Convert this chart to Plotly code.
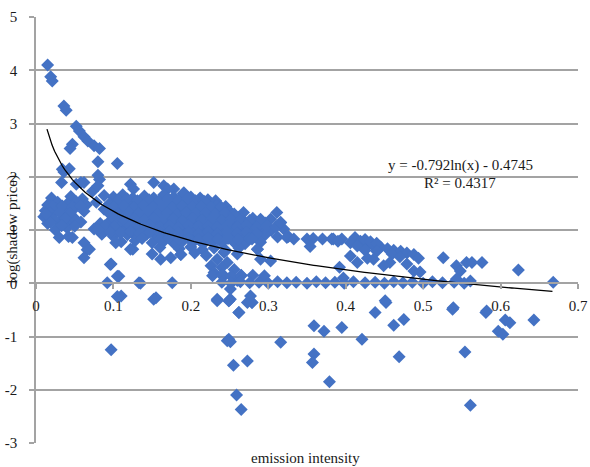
import numpy as np
import plotly.graph_objects as go

# ---------------- data ----------------
steep_pts = [(0.015, 4.10), (0.019, 3.88), (0.021, 3.80), (0.036, 3.33), (0.039, 3.25),
             (0.052, 2.95), (0.056, 2.86), (0.062, 2.75), (0.067, 2.67), (0.075, 2.58),
             (0.082, 2.53), (0.047, 2.61), (0.044, 2.53), (0.080, 2.28), (0.105, 2.25),
             (0.043, 2.15), (0.036, 2.09), (0.034, 2.14), (0.080, 2.03), (0.082, 1.95),
             (0.033, 1.89), (0.052, 1.86), (0.062, 1.89), (0.122, 1.86), (0.126, 1.77),
             (0.152, 1.89), (0.165, 1.83), (0.178, 1.77), (0.191, 1.70), (0.073, 1.73),
             (0.088, 1.65), (0.058, 1.89), (0.080, 1.83), (0.170, 1.77)]

core_pts = [(0.020, 1.60), (0.045, 1.63), (0.060, 1.58), (0.100, 1.62), (0.112, 1.66), (0.125, 1.60),
            (0.140, 1.64), (0.152, 1.60), (0.165, 1.66), (0.178, 1.62), (0.190, 1.68), (0.200, 1.62),
            (0.212, 1.60), (0.222, 1.57), (0.232, 1.55),
            (0.015, 1.47), (0.028, 1.52), (0.040, 1.49), (0.052, 1.53), (0.065, 1.47), (0.078, 1.52),
            (0.095, 1.50), (0.108, 1.46), (0.120, 1.52), (0.132, 1.48), (0.145, 1.53), (0.158, 1.47),
            (0.170, 1.51), (0.182, 1.49), (0.195, 1.54), (0.208, 1.48), (0.220, 1.50), (0.233, 1.46),
            (0.245, 1.44),
            (0.012, 1.36), (0.025, 1.40), (0.038, 1.37), (0.050, 1.41), (0.062, 1.35), (0.088, 1.39),
            (0.100, 1.36), (0.113, 1.40), (0.126, 1.37), (0.138, 1.42), (0.150, 1.36), (0.163, 1.39),
            (0.175, 1.35), (0.188, 1.41), (0.200, 1.37), (0.213, 1.39), (0.226, 1.36), (0.238, 1.40),
            (0.250, 1.35), (0.268, 1.33),
            (0.010, 1.25), (0.022, 1.28), (0.048, 1.24), (0.098, 1.27), (0.110, 1.23), (0.123, 1.28),
            (0.135, 1.25), (0.148, 1.29), (0.160, 1.24), (0.173, 1.27), (0.185, 1.22), (0.198, 1.28),
            (0.210, 1.25), (0.223, 1.27), (0.235, 1.23), (0.248, 1.26), (0.262, 1.24), (0.280, 1.22),
            (0.303, 1.20),
            (0.015, 1.12), (0.030, 1.16), (0.045, 1.13), (0.058, 1.15), (0.083, 1.12), (0.095, 1.16),
            (0.108, 1.11), (0.120, 1.15), (0.133, 1.13), (0.146, 1.17), (0.158, 1.12), (0.170, 1.14),
            (0.183, 1.10), (0.196, 1.15), (0.208, 1.12), (0.220, 1.16), (0.233, 1.11), (0.246, 1.14),
            (0.258, 1.12), (0.270, 1.15), (0.283, 1.10), (0.296, 1.13), (0.316, 1.14),
            (0.025, 1.00), (0.040, 1.04), (0.075, 1.02), (0.090, 0.99), (0.103, 1.03), (0.115, 1.00),
            (0.128, 1.05), (0.140, 1.01), (0.153, 0.98), (0.166, 1.03), (0.178, 1.00), (0.190, 1.04),
            (0.203, 0.99), (0.216, 1.02), (0.228, 0.98), (0.240, 1.03), (0.253, 1.00), (0.266, 1.02),
            (0.278, 0.98), (0.290, 1.01), (0.304, 0.99), (0.320, 1.02),
            (0.085, 0.92), (0.100, 0.88), (0.118, 0.91), (0.130, 0.87), (0.143, 0.92), (0.156, 0.89),
            (0.168, 0.93), (0.180, 0.88), (0.193, 0.91), (0.206, 0.87), (0.218, 0.92), (0.230, 0.89),
            (0.243, 0.91), (0.256, 0.87), (0.268, 0.90), (0.282, 0.88), (0.296, 0.91), (0.312, 0.87),
            (0.326, 0.88),
            (0.110, 0.78), (0.128, 0.80), (0.150, 0.76), (0.165, 0.79), (0.178, 0.75), (0.190, 0.80),
            (0.203, 0.77), (0.216, 0.74), (0.228, 0.79), (0.240, 0.76), (0.255, 0.78), (0.270, 0.74),
            (0.290, 0.77),
            (0.125, 0.64), (0.160, 0.67), (0.185, 0.65), (0.200, 0.68), (0.215, 0.63), (0.230, 0.66),
            (0.245, 0.62), (0.262, 0.66), (0.286, 0.64),
            (0.150, 0.55), (0.187, 0.54), (0.205, 0.57), (0.220, 0.52), (0.243, 0.58), (0.260, 0.55)]

fill_pts = [(0.106, 1.56), (0.118, 1.58), (0.131, 1.55), (0.146, 1.57), (0.159, 1.55), (0.171, 1.58),
            (0.184, 1.56), (0.196, 1.59), (0.206, 1.55), (0.217, 1.54),
            (0.021, 1.44), (0.034, 1.45), (0.046, 1.43), (0.058, 1.46), (0.101, 1.43), (0.114, 1.45),
            (0.126, 1.42), (0.139, 1.46), (0.151, 1.43), (0.164, 1.44), (0.176, 1.42), (0.189, 1.45),
            (0.201, 1.43), (0.214, 1.44), (0.227, 1.42), (0.239, 1.43),
            (0.018, 1.32), (0.031, 1.33), (0.044, 1.31), (0.094, 1.32), (0.106, 1.30), (0.119, 1.33),
            (0.132, 1.31), (0.144, 1.34), (0.157, 1.30), (0.169, 1.32), (0.181, 1.29), (0.194, 1.33),
            (0.206, 1.31), (0.219, 1.32), (0.231, 1.30), (0.244, 1.32), (0.256, 1.30),
            (0.022, 1.20), (0.038, 1.21), (0.052, 1.19), (0.101, 1.20), (0.114, 1.18), (0.127, 1.21),
            (0.139, 1.19), (0.152, 1.22), (0.164, 1.18), (0.177, 1.20), (0.189, 1.17), (0.202, 1.21),
            (0.214, 1.19), (0.227, 1.20), (0.240, 1.18), (0.252, 1.21), (0.264, 1.19), (0.276, 1.18),
            (0.290, 1.20),
            (0.033, 1.08), (0.050, 1.07), (0.089, 1.08), (0.101, 1.06), (0.121, 1.08), (0.134, 1.06),
            (0.147, 1.09), (0.160, 1.06), (0.172, 1.08), (0.184, 1.05), (0.197, 1.09), (0.210, 1.06),
            (0.222, 1.08), (0.234, 1.05), (0.247, 1.08), (0.260, 1.06), (0.272, 1.08), (0.285, 1.05),
            (0.298, 1.07), (0.310, 1.06),
            (0.096, 0.96), (0.109, 0.95), (0.122, 0.97), (0.134, 0.94), (0.147, 0.96), (0.160, 0.94),
            (0.172, 0.97), (0.184, 0.95), (0.197, 0.96), (0.210, 0.94), (0.222, 0.96), (0.234, 0.93),
            (0.247, 0.96), (0.260, 0.94), (0.272, 0.95), (0.285, 0.93),
            (0.137, 0.84), (0.160, 0.83), (0.172, 0.85), (0.185, 0.83), (0.197, 0.84), (0.210, 0.82),
            (0.222, 0.85), (0.235, 0.83), (0.248, 0.84), (0.262, 0.82), (0.276, 0.84)]

left_low_pts = [(0.019, 1.14), (0.013, 1.30), (0.030, 0.86), (0.042, 0.88), (0.047, 0.86),
                (0.062, 0.76), (0.066, 0.63), (0.069, 0.64), (0.062, 0.48), (0.080, 1.01),
                (0.097, 0.36), (0.092, 0.01), (0.107, 0.13), (0.110, -0.24), (0.103, 0.76),
                (0.122, 0.64), (0.133, 0.01), (0.155, -0.27), (0.176, 0.01), (0.174, 0.48),
                (0.161, 0.45), (0.187, 0.54), (0.105, 0.13), (0.096, 0.35), (0.135, 0.00)]

mid_pts = [(0.311, 1.33), (0.316, 1.14), (0.324, 0.86), (0.333, 0.83), (0.350, 0.83),
           (0.358, 0.84), (0.370, 0.83), (0.382, 0.83), (0.395, 0.83), (0.354, 0.69),
           (0.303, 0.42), (0.290, 0.45), (0.286, 0.64), (0.279, 0.83),
           (0.234, 0.45), (0.226, 0.33), (0.243, 0.58), (0.247, 0.39), (0.256, 0.26),
           (0.243, 0.14), (0.251, -0.11), (0.234, -0.30), (0.251, -0.30), (0.277, -0.24),
           (0.262, -0.55), (0.273, -0.36), (0.249, -0.33), (0.279, -0.36), (0.230, 0.20),
           (0.260, 0.05), (0.240, 0.30), (0.265, 0.15),
           (0.228, 0.14), (0.240, 0.15), (0.252, 0.13), (0.265, 0.14), (0.280, 0.15), (0.295, 0.14)]

zero_row_pts = [(0.240, 0.02), (0.252, 0.00), (0.264, 0.03), (0.276, 0.01), (0.288, 0.02),
                (0.300, 0.00), (0.312, 0.03), (0.324, 0.01), (0.336, 0.02), (0.350, 0.00),
                (0.362, 0.03), (0.374, 0.01), (0.386, 0.02), (0.398, 0.00), (0.410, 0.03),
                (0.425, 0.01), (0.438, 0.02), (0.450, 0.00), (0.462, 0.03), (0.474, 0.01),
                (0.486, 0.02), (0.500, 0.00), (0.512, 0.03), (0.525, 0.01), (0.540, 0.02),
                (0.553, 0.00), (0.561, 0.04), (0.397, 0.10), (0.392, 0.30)]

right_pts = [(0.384, 0.83), (0.390, 0.79), (0.412, 0.86), (0.406, 0.76),
             (0.419, 0.79), (0.428, 0.72), (0.436, 0.70), (0.445, 0.68), (0.454, 0.65),
             (0.462, 0.62), (0.471, 0.60), (0.479, 0.57), (0.488, 0.54), (0.494, 0.47),
             (0.425, 0.82), (0.432, 0.78), (0.440, 0.75), (0.415, 0.70), (0.425, 0.62),
             (0.440, 0.60), (0.460, 0.55), (0.470, 0.50),
             (0.406, 0.51), (0.415, 0.39), (0.428, 0.47), (0.436, 0.45), (0.457, 0.39),
             (0.479, 0.36), (0.449, 0.33), (0.488, 0.23), (0.496, 0.21), (0.526, 0.48),
             (0.543, 0.33), (0.556, 0.39), (0.576, 0.39), (0.548, 0.23), (0.543, 0.08),
             (0.563, 0.39), (0.623, 0.25), (0.668, 0.02)]

negative_pts = [(0.097, -1.25), (0.152, -0.30), (0.234, -0.33), (0.249, -0.33), (0.262, -0.55),
                (0.279, -0.36), (0.249, -1.05), (0.251, -1.10), (0.247, -1.08), (0.255, -1.54),
                (0.273, -1.46), (0.259, -2.10), (0.265, -2.37), (0.316, -1.11),
                (0.359, -0.80), (0.372, -0.90), (0.359, -1.33), (0.357, -1.49), (0.379, -1.85),
                (0.395, -0.83), (0.421, -1.05), (0.438, -0.55), (0.452, -0.36), (0.462, -0.79),
                (0.475, -0.68), (0.469, -1.38), (0.538, -0.49), (0.554, -1.29), (0.561, -2.29),
                (0.581, -0.55), (0.597, -0.90), (0.603, -0.96), (0.606, -0.69), (0.612, -0.74),
                (0.643, -0.69), (0.451, -0.33), (0.539, -0.46), (0.582, -0.52), (0.105, -0.25)]

# logarithmic trendline y = a*ln(x) + b (coefficients printed on chart)
trend_a = -0.792
trend_b = -0.4745
trend_x_range = [0.0142, 0.667]

x_tick_vals = [0, 0.1, 0.2, 0.3, 0.4, 0.5, 0.6, 0.7]
x_tick_text = ["0", "0.1", "0.2", "0.3", "0.4", "0.5", "0.6", "0.7"]
y_tick_vals = [-3, -2, -1, 0, 1, 2, 3, 4, 5]
y_tick_text = ["-3", "-2", "-1", "0", "1", "2", "3", "4", "5"]

# ---------------- figure ----------------
all_pts = (steep_pts + core_pts + fill_pts + left_low_pts + mid_pts + zero_row_pts
           + right_pts + negative_pts)
xs = [p[0] for p in all_pts]
ys = [p[1] for p in all_pts]

tx = np.linspace(trend_x_range[0], trend_x_range[1], 200)
ty = trend_a * np.log(tx) + trend_b

FONT = "Liberation Serif, Times New Roman, serif"
GRID = "#A3A3A3"
TXT = "#1a1a1a"

fig = go.Figure()
fig.add_trace(go.Scatter(x=xs, y=ys, mode="markers",
                         marker=dict(symbol="diamond", size=10, color="#4472C4", line=dict(width=0)),
                         showlegend=False, hoverinfo="skip"))
fig.add_trace(go.Scatter(x=tx, y=ty, mode="lines", line=dict(color="black", width=1.3),
                         showlegend=False, hoverinfo="skip"))

fig.update_layout(
    template="none",
    width=590, height=467,
    margin=dict(l=36, r=12, t=17, b=24, pad=0, autoexpand=False),
    paper_bgcolor="white", plot_bgcolor="white",
    font=dict(family=FONT, size=15, color=TXT),
    xaxis=dict(range=[0, 0.7], tickvals=x_tick_vals, ticktext=x_tick_text, automargin=False,
               showgrid=False, zeroline=False, showline=True, linecolor=GRID, linewidth=1.5,
               ticks="outside", ticklen=5, tickcolor=GRID, tickwidth=1.5,
               anchor="free", position=0.375, ticklabelstandoff=4,
               tickfont=dict(family=FONT, size=15, color=TXT)),
    yaxis=dict(range=[-3, 5], tickvals=y_tick_vals, ticktext=y_tick_text, automargin=False,
               showgrid=True, gridcolor=GRID, gridwidth=1.5, zeroline=False,
               showline=True, linecolor=GRID, linewidth=1.5,
               ticks="outside", ticklen=5, tickcolor=GRID, tickwidth=1.5,
               ticklabelstandoff=9,
               tickfont=dict(family=FONT, size=15, color=TXT)),
    annotations=[
        dict(text="y = -0.792ln(x) - 0.4745", x=0.548, y=2.22, xref="x", yref="y",
             showarrow=False, font=dict(family=FONT, size=15, color=TXT)),
        dict(text="R² = 0.4317", x=0.548, y=1.88, xref="x", yref="y",
             showarrow=False, font=dict(family=FONT, size=15, color=TXT)),
        dict(text="emission intensity", x=0.497, y=-0.035, xref="paper", yref="paper",
             xanchor="center", yanchor="middle", showarrow=False,
             font=dict(family=FONT, size=15, color=TXT)),
        dict(text="log(shadow price)", x=-0.044, y=0.501, xref="paper", yref="paper",
             xanchor="center", yanchor="middle", textangle=-90, showarrow=False,
             font=dict(family=FONT, size=15, color=TXT)),
    ],
)

fig.write_html("out.html", config={"displayModeBar": False},
               post_script="document.body.style.margin='0';document.body.style.overflow='hidden';")
